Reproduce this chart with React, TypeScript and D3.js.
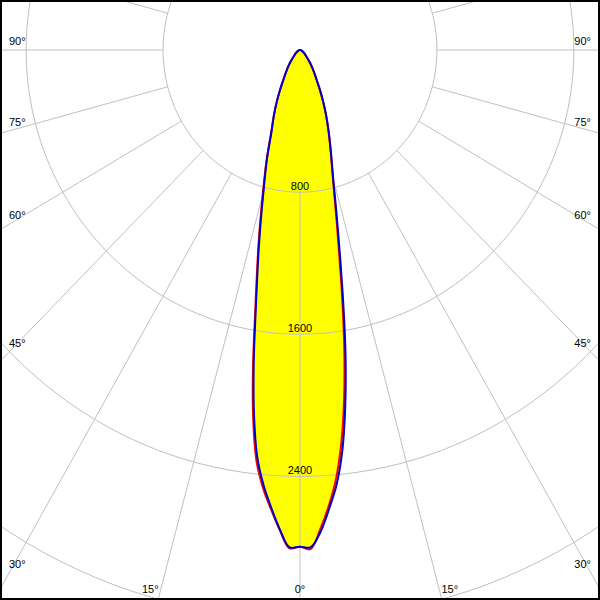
import React from "react";
import * as d3 from "d3";

// Gamma angles (degrees from nadir)
const angles = [0, 1.25, 2.5, 3.75, 5, 6.25, 7.5, 8.75, 10, 12.5, 15, 17.5, 20, 22.5, 25, 27.5, 30, 35, 40, 45, 50, 60, 70, 80, 90];
// Luminous intensity (cd) per C-plane
const redC0 = [2795, 2810, 2700, 2570, 2420, 2220, 1975, 1700, 1420, 990, 740, 595, 488, 398, 318, 250, 195, 130, 85, 55, 40, 20, 10, 4, 0];
const redC180 = [2795, 2805, 2705, 2590, 2475, 2330, 2095, 1805, 1510, 1120, 840, 650, 490, 400, 320, 252, 195, 130, 85, 55, 40, 20, 10, 4, 0];
const blueC90 = [2795, 2800, 2718, 2590, 2455, 2270, 2025, 1750, 1460, 1015, 750, 600, 490, 400, 320, 250, 195, 130, 85, 55, 40, 20, 10, 4, 0];
const blueC270 = [2795, 2800, 2700, 2580, 2455, 2300, 2060, 1775, 1490, 1100, 825, 640, 485, 398, 320, 252, 195, 130, 85, 55, 40, 20, 10, 4, 0];

const ringValues = [800, 1600, 2400, 3200, 4000];
const ringLabels = ["800", "1600", "2400"];
const spokeStep = 15;
const angleLabels = [90, 75, 60, 45, 30, 15, 0];

const W = 600;
const H = 600;
const cx = 300;
const cy = 50;
const sx = d3.scaleLinear().domain([0, 3200]).range([0, 547.8]);
const sy = d3.scaleLinear().domain([0, 3200]).range([0, 568.6]);

const toXY = (gammaDeg: number, I: number): [number, number] => {
  const g = (gammaDeg * Math.PI) / 180;
  return [cx + sx(I) * Math.sin(g), cy + sy(I) * Math.cos(g)];
};

function curvePoints(left: number[], right: number[]): [number, number][] {
  const pts: [number, number][] = [];
  for (let i = angles.length - 1; i >= 0; i--) pts.push(toXY(-angles[i], left[i]));
  for (let i = 1; i < angles.length; i++) pts.push(toXY(angles[i], right[i]));
  return pts;
}

const line = d3.line<[number, number]>().curve(d3.curveCatmullRom.alpha(0.5));

export default function App() {
  const redPts = curvePoints(redC180, redC0);
  const bluePts = curvePoints(blueC270, blueC90);
  const redD = line(redPts) || "";
  const blueD = line(bluePts) || "";

  const ellipse = (v: number) => {
    const pts: [number, number][] = [];
    for (let a = 0; a <= 360; a += 2) pts.push(toXY(a, v));
    return d3.line<[number, number]>()(pts) || "";
  };

  const spokes: { a: number; p1: [number, number]; p2: [number, number] }[] = [];
  for (let a = 0; a < 360; a += spokeStep) {
    spokes.push({ a, p1: toXY(a, ringValues[0]), p2: toXY(a, 6000) });
  }

  // angle labels: ray intersection with inset frame
  const inset = 9;
  const bottomY = 598;
  const labels: { x: number; y: number; anchor: string; text: string }[] = [];
  angleLabels.forEach((a) => {
    [-1, 1].forEach((side) => {
      if (a === 0 && side === 1) return;
      const g = (a * Math.PI) / 180;
      const ux = sx(1) * Math.sin(g);
      const uy = sy(1) * Math.cos(g);
      let tSide = ux > 1e-9 ? (cx - inset) / ux : Infinity;
      let tBot = uy > 1e-9 ? (bottomY - cy) / uy : Infinity;
      if (tSide <= tBot) {
        const y = cy + uy * tSide;
        labels.push({
          x: side < 0 ? inset : W - inset,
          y: y - 5,
          anchor: side < 0 ? "start" : "end",
          text: `${a}°`,
        });
      } else {
        const x = cx + side * ux * tBot;
        labels.push({
          x: a === 0 ? x : x,
          y: 593,
          anchor: a === 0 ? "middle" : side < 0 ? "end" : "start",
          text: `${a}°`,
        });
      }
    });
  });

  const font = "'Liberation Sans', Arial, sans-serif";

  return (
    <div style={{ position: "absolute", left: 0, top: 0 }}>
      <svg width={W} height={H} viewBox={`0 0 ${W} ${H}`} style={{ display: "block", background: "#fff" }}>
        <rect x={0} y={0} width={W} height={H} fill="#fff" />
        <path d={redD} fill="#ffff00" stroke="none" />
        <path d={blueD} fill="#ffff00" stroke="none" />
        <g stroke="#c0c0c0" strokeWidth={1} fill="none">
          {ringValues.map((v) => (
            <path key={v} d={ellipse(v)} />
          ))}
          {spokes.map((s) => (
            <line key={s.a} x1={s.p1[0]} y1={s.p1[1]} x2={s.p2[0]} y2={s.p2[1]} />
          ))}
        </g>
        <path d={redD} fill="none" stroke="#ff0000" strokeWidth={2} />
        <path d={blueD} fill="none" stroke="#0000cc" strokeWidth={2} />
        <g fontFamily={font} fontSize={11} fill="#000">
          {ringLabels.map((t, i) => (
            <text key={t} x={cx} y={cy + sy(ringValues[i]) - 2} textAnchor="middle">
              {t}
            </text>
          ))}
          {labels.map((l, i) => (
            <text key={i} x={l.x} y={l.y} textAnchor={l.anchor as any}>
              {l.text}
            </text>
          ))}
        </g>
        <rect x={1} y={1} width={W - 2} height={H - 2} fill="none" stroke="#000" strokeWidth={2} />
      </svg>
    </div>
  );
}
